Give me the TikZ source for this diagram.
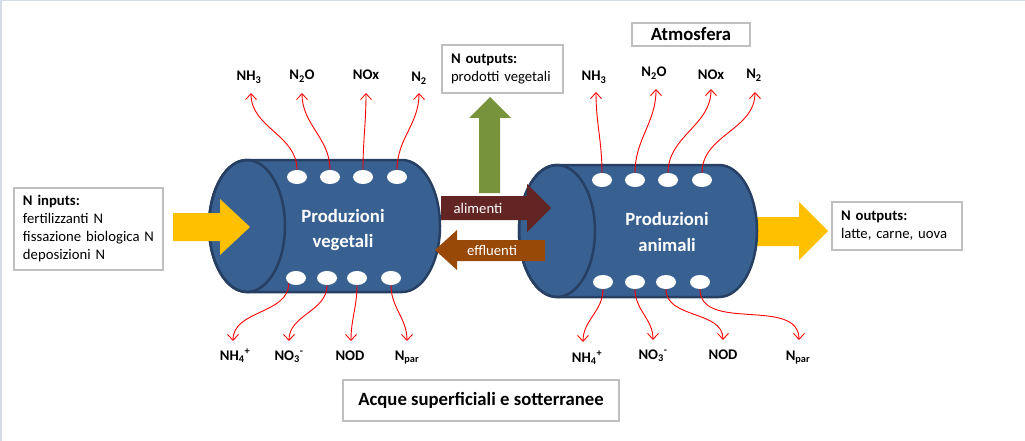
\documentclass[tikz,border=0pt]{standalone}
\usepackage{fontspec}
\setmainfont{Carlito}
\usetikzlibrary{shapes.geometric,arrows.meta,positioning}

\definecolor{cylblue}{HTML}{386192}
\definecolor{cylline}{HTML}{263F63}
\definecolor{boxgray}{HTML}{BFBFBF}
\definecolor{framecol}{HTML}{D6DDEA}
\definecolor{inyellow}{HTML}{FFC000}
\definecolor{vegreen}{HTML}{77933C}
\definecolor{foodred}{HTML}{632523}
\definecolor{manbrown}{HTML}{984807}

\newcommand{\basefont}{\fontsize{14.7}{18}\selectfont}
\newcommand{\bigfont}{\fontsize{18.7}{25.5}\selectfont}

\tikzset{
  cyl/.style={fill=cylblue, draw=cylline, line width=2.5pt},
  hole/.style={ellipse, fill=white, minimum width=20pt, minimum height=14pt, inner sep=0pt},
  emis/.style={red, line width=0.9pt, -{Straight Barb[length=6pt,width=11pt]}},
  gas/.style={font=\basefont\bfseries, inner sep=0pt, anchor=base},
  infobox/.style={draw=boxgray, line width=1.2pt, fill=white, align=left, inner xsep=9pt, inner ysep=0pt},
  titlebox/.style={draw=boxgray, line width=1.2pt, fill=white, inner sep=2pt, font=\bigfont\bfseries},
  prod/.style={text=white, font=\bigfont\bfseries, align=center},
  flowtxt/.style={text=white, font=\basefont},
}

\begin{document}
\begin{tikzpicture}[x=1pt, y=1pt, font=\basefont]

  \useasboundingbox (0,0) rectangle (1025,-441);
  \draw[framecol, line width=1.5pt] (1,-441) -- (1,-0.7) -- (1025,-0.7);

  % yellow flow out of produzioni animali (behind the cylinder)
  \fill[inyellow] (740,-217) -- (799,-217) -- (799,-202) -- (828,-231) -- (799,-260) -- (799,-246) -- (740,-246) -- cycle;

  % produzioni vegetali
  \filldraw[cyl] (247,-160) -- (402,-160) arc[start angle=90, end angle=-90, x radius=38, y radius=66]
    -- (247,-292) arc[start angle=270, end angle=90, x radius=38, y radius=66] -- cycle;
  \draw[cyl, fill=none] (247,-226) ellipse[x radius=38, y radius=66];
  \node[prod] (veg) at (343,-230) {Produzioni\\vegetali};

  % produzioni animali
  \filldraw[cyl] (557,-165) -- (719,-165) arc[start angle=90, end angle=-90, x radius=38, y radius=66]
    -- (557,-297) arc[start angle=270, end angle=90, x radius=38, y radius=66] -- cycle;
  \draw[cyl, fill=none] (557,-231) ellipse[x radius=38, y radius=66];
  \node[prod] (ani) at (667,-232) {Produzioni\\animali};

  % holes
  \node[hole] (vt1) at (297,-177) {};
  \node[hole] (vt2) at (330,-177) {};
  \node[hole] (vt3) at (363,-177) {};
  \node[hole] (vt4) at (397,-177) {};
  \node[hole] (vb1) at (296,-278) {};
  \node[hole] (vb2) at (327,-278) {};
  \node[hole] (vb3) at (357,-278) {};
  \node[hole] (vb4) at (391,-278) {};
  \node[hole] (at1) at (602,-180) {};
  \node[hole] (at2) at (635,-180) {};
  \node[hole] (at3) at (668,-180) {};
  \node[hole] (at4) at (702,-180) {};
  \node[hole] (ab1) at (603,-282) {};
  \node[hole] (ab2) at (635,-282) {};
  \node[hole] (ab3) at (666,-282) {};
  \node[hole] (ab4) at (700,-282) {};

  % arrow tips
  \coordinate (vt1e) at (251,-93);
  \coordinate (vt2e) at (302,-93);
  \coordinate (vt3e) at (366,-93);
  \coordinate (vt4e) at (419,-93);
  \coordinate (vb1e) at (233,-341);
  \coordinate (vb2e) at (289,-341);
  \coordinate (vb3e) at (351,-341);
  \coordinate (vb4e) at (407,-341);
  \coordinate (at1e) at (596,-92);
  \coordinate (at2e) at (656,-89);
  \coordinate (at3e) at (711,-89);
  \coordinate (at4e) at (755,-92);
  \coordinate (ab1e) at (583,-342);
  \coordinate (ab2e) at (653,-340);
  \coordinate (ab3e) at (723,-340);
  \coordinate (ab4e) at (799,-340);

  % gas labels
  \node[gas] (nh3v) at (249,-81) {NH\textsubscript{3}};
  \node[gas] (n2ov) at (302,-80) {N\textsubscript{2}O};
  \node[gas] (noxv) at (366,-80) {NOx};
  \node[gas] (n2v) at (419,-82) {N\textsubscript{2}};
  \node[gas] (nh4v) at (235,-360) {NH\textsubscript{4}\textsuperscript{+}};
  \node[gas] (no3v) at (289,-360) {NO\textsubscript{3}\textsuperscript{-}};
  \node[gas] (nodv) at (350,-360) {NOD};
  \node[gas] (nparv) at (407,-360) {N\textsubscript{par}};
  \node[gas] (nh3a) at (594,-81) {NH\textsubscript{3}};
  \node[gas] (n2oa) at (654,-77) {N\textsubscript{2}O};
  \node[gas] (noxa) at (711,-80) {NOx};
  \node[gas] (n2a) at (754,-79) {N\textsubscript{2}};
  \node[gas] (nh4a) at (587,-362) {NH\textsubscript{4}\textsuperscript{+}};
  \node[gas] (no3a) at (653,-359) {NO\textsubscript{3}\textsuperscript{-}};
  \node[gas] (noda) at (723,-359) {NOD};
  \node[gas] (npara) at (798,-360) {N\textsubscript{par}};

  % emissions
  \draw[emis] (vt1.north) to[out=90, in=-90] (vt1e);
  \draw[emis] (vt2.north) to[out=90, in=-90] (vt2e);
  \draw[emis] (vt3.north) to[out=90, in=-90] (vt3e);
  \draw[emis] (vt4.north) to[out=90, in=-90] (vt4e);
  \draw[emis] (vb1.south west) to[out=-90, in=90] (vb1e);
  \draw[emis] (vb2.south) to[out=-90, in=90] (vb2e);
  \draw[emis] (vb3.south) to[out=-90, in=90] (vb3e);
  \draw[emis] (vb4.south) to[out=-90, in=90] (vb4e);
  \draw[emis] (at1.north) to[out=90, in=-90] (at1e);
  \draw[emis] (at2.north) to[out=90, in=-90] (at2e);
  \draw[emis] (at3.north) to[out=90, in=-90] (at3e);
  \draw[emis] (at4.north) to[out=90, in=-90] (at4e);
  \draw[emis] (ab1.south) to[out=-90, in=90] (ab1e);
  \draw[emis] (ab2.south) to[out=-90, in=90] (ab2e);
  \draw[emis] (ab3.south) to[out=-90, in=90] (ab3e);
  \draw[emis] (ab4.south) to[out=-90, in=90] (ab4e);

  % block arrows
  \fill[inyellow] (173,-213) -- (220,-213) -- (220,-199) -- (250,-227) -- (220,-255) -- (220,-241) -- (173,-241) -- cycle;
  \fill[vegreen] (479,-193) -- (479,-118) -- (469,-118) -- (490,-97) -- (511,-118) -- (500,-118) -- (500,-193) -- cycle;
  \fill[foodred] (441,-196) -- (527,-196) -- (527,-184) -- (551,-208) -- (527,-232) -- (527,-220) -- (441,-220) -- cycle;
  \fill[manbrown] (545,-240) -- (457,-240) -- (457,-230) -- (435,-250) -- (457,-270) -- (457,-261) -- (545,-261) -- cycle;
  \node[flowtxt] (alim) at (478,-208) {alimenti};
  \node[flowtxt] (effl) at (492,-250) {effluenti};

  % boxes
  \node[infobox, text width=131pt, minimum height=82pt] (inputs) at (88.5,-229)
    {\textbf{N inputs:}\\fertilizzanti N\\fissazione biologica N\\deposizioni N};
  \node[infobox, text width=103pt, minimum height=48pt] (outveg) at (502.5,-69)
    {\textbf{N outputs:}\\prodotti vegetali};
  \node[infobox, text width=112pt, minimum height=48pt] (outani) at (897,-226)
    {\textbf{N outputs:}\\latte, carne, uova};
  \node[titlebox, minimum width=118pt, minimum height=23pt] (atm) at (691,-34.5) {Atmosfera};
  \node[titlebox, minimum width=276pt, minimum height=41pt] (acque) at (481,-400.5) {Acque superficiali e sotterranee};

\end{tikzpicture}
\end{document}
